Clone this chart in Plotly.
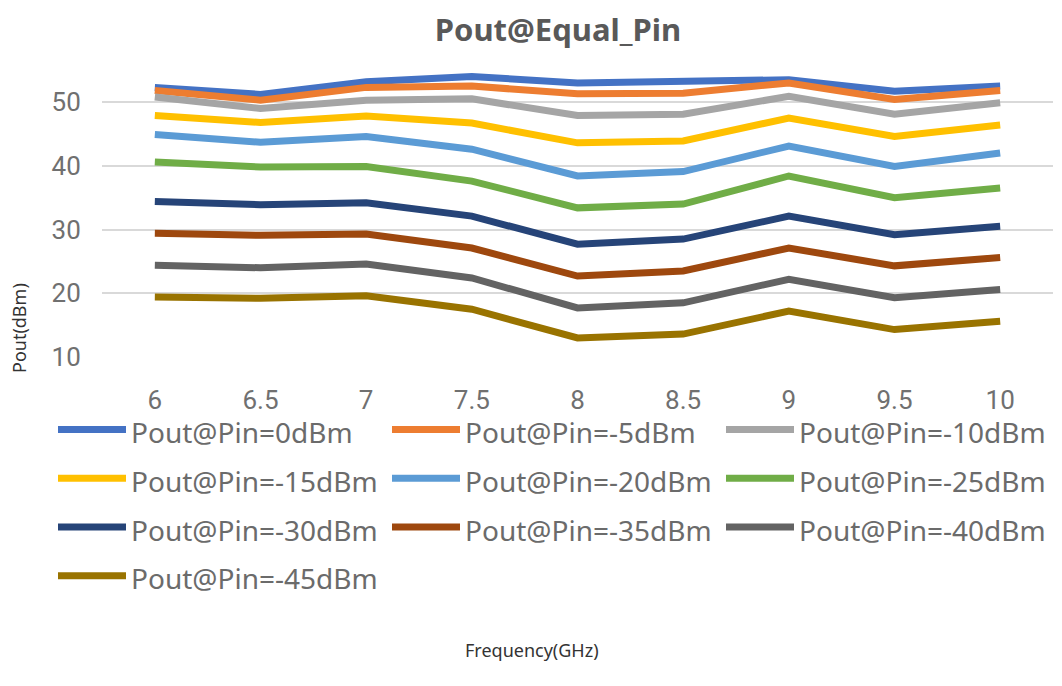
import plotly.graph_objects as go

freq_labels = ["6", "6.5", "7", "7.5", "8", "8.5", "9", "9.5", "10"]

series_names = [
    "Pout@Pin=0dBm", "Pout@Pin=-5dBm", "Pout@Pin=-10dBm",
    "Pout@Pin=-15dBm", "Pout@Pin=-20dBm", "Pout@Pin=-25dBm",
    "Pout@Pin=-30dBm", "Pout@Pin=-35dBm", "Pout@Pin=-40dBm",
    "Pout@Pin=-45dBm",
]

pin_0 = [52.3, 51.2, 53.2, 54.0, 53.0, 53.3, 53.5, 51.7, 52.5]
pin_m5 = [51.8, 50.3, 52.3, 52.5, 51.3, 51.4, 53.0, 50.4, 51.8]
pin_m10 = [50.8, 49.0, 50.3, 50.5, 47.9, 48.1, 50.9, 48.1, 49.9]
pin_m15 = [47.9, 46.8, 47.8, 46.7, 43.6, 43.9, 47.5, 44.6, 46.4]
pin_m20 = [44.9, 43.7, 44.6, 42.6, 38.4, 39.1, 43.1, 39.9, 42.0]
pin_m25 = [40.6, 39.8, 39.9, 37.6, 33.4, 34.0, 38.4, 35.0, 36.5]
pin_m30 = [34.4, 33.9, 34.2, 32.1, 27.7, 28.5, 32.1, 29.2, 30.5]
pin_m35 = [29.4, 29.1, 29.3, 27.1, 22.7, 23.5, 27.1, 24.3, 25.6]
pin_m40 = [24.4, 24.0, 24.6, 22.4, 17.7, 18.5, 22.2, 19.3, 20.6]
pin_m45 = [19.4, 19.2, 19.6, 17.5, 13.0, 13.6, 17.2, 14.3, 15.6]

series_values = [pin_0, pin_m5, pin_m10, pin_m15, pin_m20,
                 pin_m25, pin_m30, pin_m35, pin_m40, pin_m45]

colors = ["#4472C4", "#ED7D31", "#A5A5A5", "#FFC000", "#5B9BD5",
          "#70AD47", "#264478", "#9E480E", "#636363", "#997300"]

y_ticks = [10, 20, 30, 40, 50]

# The page body has an 8px default margin; positions below are measured on
# the reference picture and shifted by that offset.
OFF = 8
W, H = 1062 - OFF, 686 - OFF
ml, mr, mt, mb = 102 - OFF, W - (1053 - OFF), 67 - OFF, H - (357 - OFF)
PW, PH = W - ml - mr, H - mt - mb


def px_x(x):
    return (x - OFF - ml) / PW


def px_y(y):
    return (H - mb - (y - OFF)) / PH


tick_font = dict(family="Roboto, Liberation Sans, sans-serif", size=26, color="#707070")
text_font = "Noto Sans, Open Sans, sans-serif"

fig = go.Figure()
for name, vals, col in zip(series_names, series_values, colors):
    fig.add_trace(go.Scatter(
        x=freq_labels, y=vals, mode="lines",
        name='<span style="font-size:28px">' + name + '</span>',
        line=dict(color=col, width=7),
    ))

fig.update_layout(
    width=W, height=H,
    margin=dict(l=ml, r=mr, t=mt, b=mb, autoexpand=False),
    paper_bgcolor="white", plot_bgcolor="white",
    title=dict(text="<b>Pout@Equal_Pin</b>", x=(558 - OFF) / W, xanchor="center",
               y=1 - (30 - OFF) / H, yanchor="middle", xref="container", yref="container",
               font=dict(family=text_font, size=31, color="#595959")),
    xaxis=dict(type="category", range=[-0.5, 8.5], showgrid=False, zeroline=False,
               showline=False, ticks="outside", ticklen=20, tickcolor="rgba(0,0,0,0)",
               tickfont=tick_font),
    yaxis=dict(range=[10, 55.5], tickvals=y_ticks, showgrid=True, gridcolor="#d9d9d9",
               gridwidth=2, zeroline=False, showline=False, ticks="outside", ticklen=15,
               tickcolor="rgba(0,0,0,0)", tickfont=tick_font),
    showlegend=True,
    legend=dict(orientation="h", x=(45 - ml) / PW, xanchor="left",
                y=px_y(400), yanchor="top",
                font=dict(family=text_font, size=35.2, color="#6b6b6b"),
                itemwidth=68, entrywidth=251, entrywidthmode="pixels",
                bgcolor="rgba(0,0,0,0)", traceorder="normal"),
    annotations=[
        dict(text="Pout(dBm)", xref="paper", yref="paper",
             x=px_x(19), y=px_y(328),
             xanchor="center", yanchor="middle", textangle=-90, showarrow=False,
             font=dict(family=text_font, size=18, color="#333333")),
        dict(text="Frequency(GHz)", xref="paper", yref="paper",
             x=px_x(532), y=px_y(650),
             xanchor="center", yanchor="middle", showarrow=False,
             font=dict(family=text_font, size=18, color="#333333")),
    ],
)

fig.write_html("out.html")
